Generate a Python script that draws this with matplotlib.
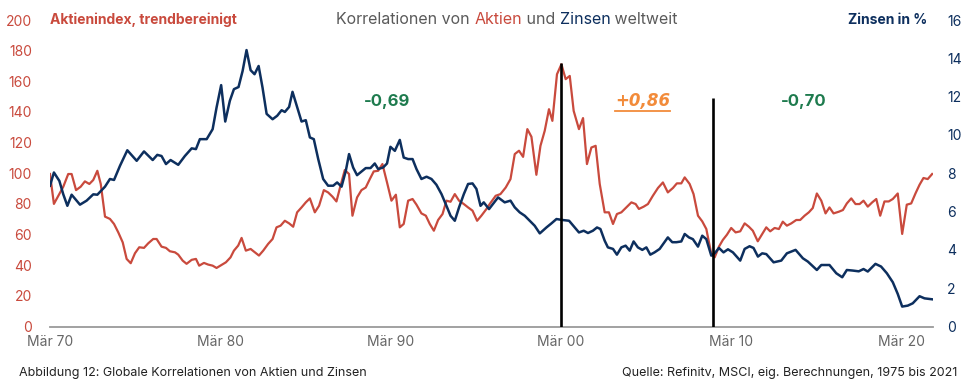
import matplotlib
matplotlib.use("Agg")
import matplotlib.pyplot as plt
from matplotlib.lines import Line2D

# Aktienindex, trendbereinigt (linke Achse)
aktien_jahr = [
    1970.00, 1970.23, 1970.49, 1970.78, 1971.07, 1971.27, 1971.53, 1971.80, 1972.05, 1972.31,
    1972.54, 1972.78, 1972.98, 1973.23, 1973.52, 1973.76, 1974.01, 1974.27, 1974.50, 1974.74,
    1974.99, 1975.24, 1975.52, 1975.77, 1976.06, 1976.26, 1976.55, 1976.81, 1977.04, 1977.34,
    1977.53, 1977.79, 1978.02, 1978.32, 1978.57, 1978.76, 1979.04, 1979.29, 1979.55, 1979.78,
    1980.08, 1980.33, 1980.60, 1980.80, 1981.05, 1981.25, 1981.50, 1981.78, 1982.03, 1982.27,
    1982.52, 1982.81, 1983.07, 1983.30, 1983.54, 1983.79, 1984.04, 1984.28, 1984.51, 1984.77,
    1985.02, 1985.26, 1985.55, 1985.80, 1986.08, 1986.33, 1986.59, 1986.82, 1987.06, 1987.31,
    1987.56, 1987.76, 1988.03, 1988.29, 1988.54, 1988.78, 1989.01, 1989.27, 1989.52, 1989.79,
    1990.05, 1990.31, 1990.54, 1990.77, 1991.03, 1991.29, 1991.52, 1991.81, 1992.07, 1992.30,
    1992.54, 1992.79, 1993.05, 1993.28, 1993.52, 1993.77, 1994.02, 1994.30, 1994.55, 1994.81,
    1995.08, 1995.33, 1995.63, 1995.82, 1996.17, 1996.45, 1996.76, 1997.04, 1997.29, 1997.54,
    1997.78, 1998.03, 1998.27, 1998.56, 1998.80, 1999.05, 1999.30, 1999.50, 1999.77, 2000.03,
    2000.28, 2000.52, 2000.75, 2001.06, 2001.30, 2001.53, 2001.79, 2002.04, 2002.28, 2002.57,
    2002.82, 2003.06, 2003.29, 2003.55, 2003.84, 2004.14, 2004.39, 2004.58, 2004.86, 2005.11,
    2005.40, 2005.70, 2005.99, 2006.28, 2006.58, 2006.81, 2007.07, 2007.27, 2007.56, 2007.79,
    2008.05, 2008.30, 2008.54, 2008.83, 2009.03, 2009.28, 2009.51, 2009.75, 2010.00, 2010.26,
    2010.53, 2010.79, 2011.04, 2011.27, 2011.56, 2011.82, 2012.06, 2012.29, 2012.55, 2012.80,
    2013.03, 2013.27, 2013.53, 2013.82, 2014.05, 2014.31, 2014.56, 2014.79, 2015.03, 2015.29,
    2015.54, 2015.77, 2016.01, 2016.32, 2016.56, 2016.79, 2017.05, 2017.30, 2017.54, 2017.77,
    2018.02, 2018.28, 2018.52, 2018.75, 2019.00, 2019.25, 2019.49, 2019.78, 2020.04, 2020.31,
    2020.57, 2020.82, 2021.06, 2021.29, 2021.54, 2021.80,
]
aktien = [
    99.5, 80, 85.3, 91.2, 99.5, 99.5, 89, 91.2, 94.7, 93,
    95.6, 101.6, 93, 71.7, 70.2, 66.9, 61.4, 54.9, 44.1, 41.3,
    47.8, 51.7, 51.3, 54.3, 57.1, 57.1, 52.1, 51.3, 49.1, 48.4,
    46.9, 43, 40.9, 43.5, 44.1, 39.7, 41.5, 40.4, 39.7, 38.2,
    40.2, 41.9, 45.1, 49.5, 52.8, 57.8, 49.5, 50.6, 48.4, 46.3,
    49.5, 53.9, 57.1, 64.7, 65.8, 69, 67.3, 65.1, 74.5, 77.7,
    81, 83.6, 74.5, 78.8, 89, 87.5, 84.7, 81.6, 91.9, 102.1,
    99.5, 72.3, 84.2, 89, 90.7, 96.2, 101.2, 101.6, 106, 94,
    82.1, 86, 64.7, 66.9, 82.1, 83.2, 79.5, 73.8, 72.3, 66.9,
    62.5, 69.5, 73.4, 82.1, 81.4, 86.4, 82.1, 79.9, 77.7, 75.6,
    69, 72.3, 76.7, 79.9, 85.3, 86.4, 90.7, 96.2, 112.5, 114.7,
    110.7, 128.8, 123.8, 99, 117.9, 127.7, 141.8, 134.2, 164.6, 171.1,
    161.4, 163.5, 140.7, 128.8, 136, 106, 116.8, 117.9, 93, 74.5,
    74.5, 66.9, 73.4, 74.5, 77.7, 81, 79.9, 76.7, 78.2, 79.9,
    85.3, 90.4, 94, 87.5, 90.4, 93.4, 93.4, 97.3, 93, 86.4,
    72.3, 68.6, 63.6, 47.4, 45.1, 52.1, 56.5, 59.9, 64.3, 61.4,
    62.1, 67.3, 65.1, 62.5, 55.6, 60.4, 64.7, 62.1, 64.3, 63.6,
    68.4, 65.8, 67.3, 69.5, 69.5, 72.3, 74.5, 77.3, 86.8, 82.1,
    73.8, 77.7, 73.8, 74.9, 76, 80.3, 83.6, 79.9, 79.9, 82.1,
    78.2, 81, 83.2, 72.3, 81.6, 81.6, 83.2, 86.8, 60.4, 79.5,
    80.3, 86.8, 92.5, 96.9, 96.2, 99.5,
]

# Zinsen in % (rechte Achse)
zins_jahr = [
    1970.00, 1970.23, 1970.55, 1970.78, 1971.02, 1971.27, 1971.76, 1972.15, 1972.54, 1972.78,
    1973.23, 1973.52, 1973.76, 1974.11, 1974.54, 1975.09, 1975.52, 1976.03, 1976.30, 1976.55,
    1976.81, 1977.08, 1977.53, 1977.92, 1978.32, 1978.57, 1978.80, 1979.20, 1979.55, 1979.78,
    1980.05, 1980.29, 1980.56, 1980.80, 1981.07, 1981.31, 1981.54, 1981.78, 1982.01, 1982.25,
    1982.48, 1982.72, 1983.07, 1983.34, 1983.60, 1983.79, 1984.04, 1984.24, 1984.51, 1984.77,
    1985.02, 1985.26, 1985.49, 1985.75, 1986.04, 1986.33, 1986.63, 1986.86, 1987.12, 1987.37,
    1987.56, 1987.80, 1988.03, 1988.29, 1988.54, 1988.82, 1989.07, 1989.27, 1989.56, 1989.79,
    1989.99, 1990.25, 1990.54, 1990.77, 1991.03, 1991.29, 1991.52, 1991.81, 1992.11, 1992.40,
    1992.69, 1992.99, 1993.28, 1993.52, 1993.77, 1994.02, 1994.30, 1994.55, 1994.81, 1995.04,
    1995.28, 1995.47, 1995.78, 1996.31, 1996.70, 1997.04, 1997.29, 1997.58, 1997.88, 1998.17,
    1998.46, 1998.76, 1999.15, 1999.44, 1999.74, 2000.09, 2000.48, 2000.81, 2001.06, 2001.34,
    2001.59, 2001.88, 2002.12, 2002.32, 2002.57, 2002.76, 2003.06, 2003.29, 2003.55, 2003.80,
    2004.04, 2004.27, 2004.52, 2004.78, 2005.02, 2005.25, 2005.50, 2005.80, 2006.03, 2006.28,
    2006.54, 2006.78, 2007.07, 2007.27, 2007.52, 2007.75, 2008.05, 2008.30, 2008.54, 2008.83,
    2009.03, 2009.28, 2009.55, 2009.81, 2010.10, 2010.53, 2010.79, 2011.08, 2011.31, 2011.57,
    2011.82, 2012.06, 2012.49, 2012.94, 2013.27, 2013.78, 2014.21, 2014.50, 2015.03, 2015.29,
    2015.77, 2016.17, 2016.52, 2016.79, 2017.14, 2017.49, 2017.77, 2018.02, 2018.47, 2018.80,
    2019.14, 2019.49, 2019.78, 2020.04, 2020.37, 2020.66, 2021.06, 2021.35, 2021.80,
]
zinsen = [
    7.35, 8.04, 7.6, 6.9, 6.3, 6.88, 6.36, 6.57, 6.9, 6.88,
    7.3, 7.7, 7.65, 8.39, 9.2, 8.65, 9.14, 8.69, 8.96, 8.9,
    8.48, 8.69, 8.44, 8.9, 9.3, 9.26, 9.78, 9.78, 10.3, 11.43,
    12.6, 10.7, 11.78, 12.39, 12.5, 13.34, 14.43, 13.38, 13.17, 13.6,
    12.47, 11.1, 10.82, 11.0, 11.29, 11.2, 11.46, 12.25, 11.46, 10.7,
    10.77, 9.87, 9.78, 8.74, 7.7, 7.35, 7.35, 7.52, 7.3, 8.13,
    9.0, 8.3, 7.9, 8.09, 8.27, 8.27, 8.51, 8.22, 8.3, 8.51,
    9.38, 9.17, 9.74, 8.82, 8.74, 8.74, 8.22, 7.7, 7.82, 7.7,
    7.4, 6.91, 6.3, 5.78, 5.52, 6.22, 6.91, 7.44, 7.47, 7.18,
    6.3, 6.48, 6.13, 6.74, 6.48, 6.57, 6.22, 5.96, 5.78, 5.52,
    5.26, 4.86, 5.17, 5.38, 5.61, 5.56, 5.52, 5.17, 4.91, 5.0,
    4.88, 5.0, 5.17, 5.09, 4.48, 4.13, 4.05, 3.75, 4.13, 4.22,
    3.96, 4.44, 4.13, 4.0, 4.13, 3.75, 3.87, 4.05, 4.34, 4.65,
    4.4, 4.4, 4.44, 4.83, 4.65, 4.56, 4.17, 4.74, 4.56, 3.7,
    3.82, 4.1, 3.87, 4.03, 3.87, 3.44, 4.05, 4.19, 4.1, 3.65,
    3.82, 3.78, 3.35, 3.44, 3.82, 4.0, 3.56, 3.39, 2.95, 3.21,
    3.21, 2.78, 2.57, 2.95, 2.92, 2.88, 3.0, 2.87, 3.27, 3.13,
    2.78, 2.31, 1.7, 1.04, 1.09, 1.21, 1.58, 1.47, 1.42,
]

# Strukturbrueche und Korrelationen je Phase
bruch_jahr = [2000.0, 2008.95]
bruch_hoehe = [13.76, 11.95]          # in Zinsen-Einheiten
korr_text = ["-0,69", "+0,86", "-0,70"]
korr_jahr = [1989.8, 2004.8, 2014.25]

jahr_ticks = [1970, 1980, 1990, 2000, 2010, 2020]
jahr_labels = ["Mär 70", "Mär 80", "Mär 90", "Mär 00", "Mär 10", "Mär 20"]

RED = "#c94a3d"
NAVY = "#0d2f5e"
GREEN = "#1e7b4e"
ORANGE = "#f28b3a"
GREY = "#5a5a5a"

plt.rcParams["font.family"] = ["Inter", "DejaVu Sans"]

W, H = 963, 390
fig = plt.figure(figsize=(W / 100, H / 100), dpi=100)
x0, x1, ytop, ybot = 50, 933, 20, 326.5
ax = fig.add_axes([x0 / W, 1 - ybot / H, (x1 - x0) / W, (ybot - ytop) / H])
ax2 = ax.twinx()

ax.plot(aktien_jahr, aktien, color=RED, lw=1.6, solid_joinstyle="round")
ax2.plot(zins_jahr, zinsen, color=NAVY, lw=1.8, solid_joinstyle="round")
ax2.vlines(bruch_jahr, 0, bruch_hoehe, color="black", lw=1.9, zorder=5)

ax.set_xlim(1970, 2021.85)
ax.set_ylim(0, 200)
ax2.set_ylim(0, 16)
ax.set_yticks(range(0, 201, 20))
ax2.set_yticks(range(0, 17, 2))
ax.set_xticks(jahr_ticks)
ax.set_xticklabels(jahr_labels)

ax.tick_params(axis="y", length=0, labelcolor=RED, labelsize=10, pad=13)
ax2.tick_params(axis="y", length=0, labelcolor=NAVY, labelsize=10, pad=10)
ax.tick_params(axis="x", length=0, labelcolor="#666666", labelsize=10, pad=6)

for a in (ax, ax2):
    for s in a.spines.values():
        s.set_visible(False)
ax.spines["bottom"].set_visible(True)
ax.spines["bottom"].set_color("#9a9a9a")
ax.spines["bottom"].set_linewidth(1.3)

# Achsentitel
fig.text(50 / W, 1 - 20 / H, "Aktienindex, trendbereinigt", color=RED, fontsize=10,
         fontweight="bold", ha="left", va="center")
fig.text(927 / W, 1 - 20 / H, "Zinsen in %", color=NAVY, fontsize=10,
         fontweight="bold", ha="right", va="center")

# mehrfarbiger Titel
parts = [("Korrelationen von ", GREY), ("Aktien", RED), (" und ", GREY),
         ("Zinsen", NAVY), (" weltweit", GREY)]
r = fig.canvas.get_renderer()
texts = []
for s, c in parts:
    t = fig.text(0, 1 - 20 / H, s, color=c, fontsize=11.5, ha="left", va="center")
    texts.append(t)
widths = [t.get_window_extent(r).width for t in texts]
pos = 507 - sum(widths) / 2
for t, w in zip(texts, widths):
    t.set_x(pos / W)
    pos += w

# Korrelationen
for s, xj in zip(korr_text, korr_jahr):
    if s.startswith("+"):
        t = ax.text(xj, 147, s, color=ORANGE, fontsize=12, fontweight="bold",
                    fontstyle="italic", ha="center", va="center", family="DejaVu Sans")
        bb = t.get_window_extent(r)
        fig.add_artist(Line2D([bb.x0 / W, bb.x1 / W], [(bb.y0 - 1) / H] * 2,
                              color=ORANGE, lw=1.3))
    else:
        ax.text(xj, 147, s, color=GREEN, fontsize=12, fontweight="bold",
                ha="center", va="center")

# Fusszeile
fig.text(19 / W, 1 - 373 / H, "Abbildung 12: Globale Korrelationen von Aktien und Zinsen",
         fontsize=9, color="#222222", ha="left", va="center")
fig.text(957 / W, 1 - 373 / H, "Quelle: Refinitv, MSCI, eig. Berechnungen, 1975 bis 2021",
         fontsize=9, color="#222222", ha="right", va="center")

fig.savefig("out.png", dpi=100)
